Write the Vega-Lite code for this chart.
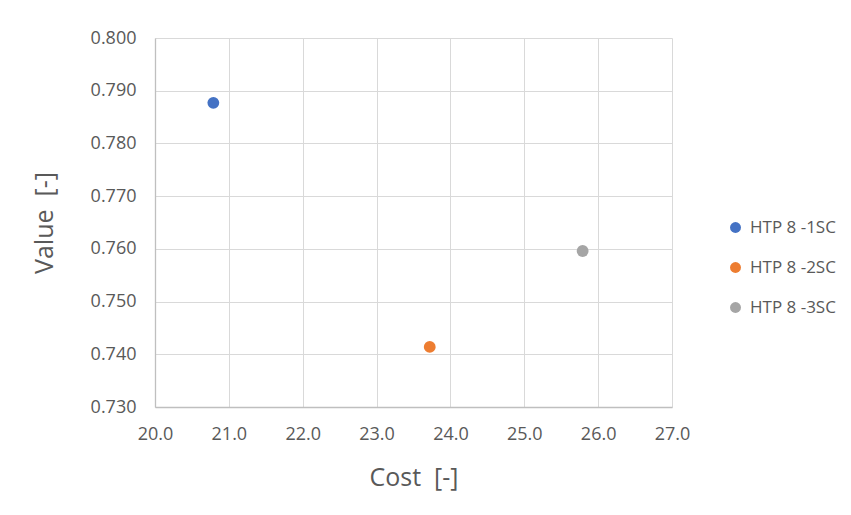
{
  "$schema": "https://vega.github.io/schema/vega-lite/v6.json",
  "autosize": {"type": "none"},
  "width": 517,
  "height": 369,
  "padding": {"left": 155, "top": 38, "right": 179, "bottom": 108},
  "background": "white",
  "config": {
    "font": "Open Sans",
    "view": {"stroke": null},
    "axis": {
      "labelColor": "#595959",
      "titleColor": "#595959",
      "labelFont": "Open Sans",
      "titleFont": "Open Sans",
      "labelFontSize": 18,
      "titleFontSize": 25,
      "titleFontWeight": "normal",
      "gridColor": "#D9D9D9",
      "gridWidth": 1,
      "domainColor": "#BFBFBF",
      "domainWidth": 1.3,
      "ticks": false,
      "tickSize": 0
    }
  },
  "data": {
    "values": [
      {"series": "HTP 8 -1SC", "cost": 20.79, "value": 0.7877},
      {"series": "HTP 8 -2SC", "cost": 23.72, "value": 0.7414},
      {"series": "HTP 8 -3SC", "cost": 25.79, "value": 0.7596}
    ]
  },
  "mark": {"type": "point", "filled": true, "opacity": 1, "size": 140, "shape": "circle"},
  "encoding": {
    "x": {
      "field": "cost",
      "type": "quantitative",
      "title": "Cost \u00a0[-]",
      "scale": {"domain": [20, 27], "nice": false, "zero": false},
      "axis": {"values": [20, 21, 22, 23, 24, 25, 26, 27], "format": ".1f", "labelPadding": 18, "titleY": 58, "labelFlush": false}
    },
    "y": {
      "field": "value",
      "type": "quantitative",
      "title": "Value \u00a0[-]",
      "scale": {"domain": [0.73, 0.8], "nice": false, "zero": false},
      "axis": {"values": [0.73, 0.74, 0.75, 0.76, 0.77, 0.78, 0.79, 0.8], "format": ".3f", "labelPadding": 19, "titleX": -98, "labelFlush": false}
    },
    "color": {
      "field": "series",
      "type": "nominal",
      "scale": {"range": ["#4472C4", "#ED7D31", "#A5A5A5"]},
      "legend": {
        "title": null,
        "orient": "none",
        "legendX": 572,
        "legendY": 181,
        "padding": 0,
        "symbolType": "circle",
        "symbolSize": 120,
        "symbolOpacity": 1,
        "labelFontSize": 17,
        "labelColor": "#595959",
        "labelFont": "Open Sans",
        "rowPadding": 22,
        "labelOffset": 6
      }
    }
  }
}
